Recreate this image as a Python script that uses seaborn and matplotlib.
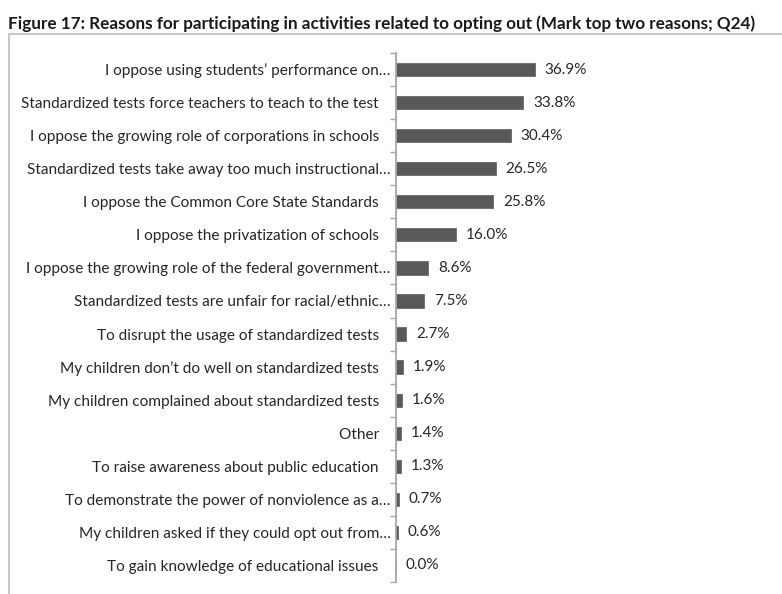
import matplotlib
matplotlib.use("Agg")
import matplotlib.pyplot as plt
import seaborn as sns
import pandas as pd
from matplotlib.patches import Rectangle
from matplotlib.ticker import FixedLocator

reasons = [
    "I oppose using students\u2019 performance on\u2026",
    "Standardized tests force teachers to teach to the test",
    "I oppose the growing role of corporations in schools",
    "Standardized tests take away too much instructional\u2026",
    "I oppose the Common Core State Standards",
    "I oppose the privatization of schools",
    "I oppose the growing role of the federal government\u2026",
    "Standardized tests are unfair for racial/ethnic\u2026",
    "To disrupt the usage of standardized tests",
    "My children don\u2019t do well on standardized tests",
    "My children complained about standardized tests",
    "Other",
    "To raise awareness about public education",
    "To demonstrate the power of nonviolence as a\u2026",
    "My children asked if they could opt out from\u2026",
    "To gain knowledge of educational issues",
]
percent = [36.9, 33.8, 30.4, 26.5, 25.8, 16.0, 8.6, 7.5, 2.7, 1.9, 1.6, 1.4, 1.3, 0.7, 0.6, 0.0]
title = "Figure 17: Reasons for participating in activities related to opting out (Mark top two reasons; Q24)"

df = pd.DataFrame({"reason": reasons, "pct": percent})

sns.set_style("white")
plt.rcParams["font.family"] = ["Lato", "DejaVu Sans"]

W, H = 782, 594
fig = plt.figure(figsize=(W / 100, H / 100), dpi=100)

# frame
fig.patches.append(Rectangle((9 / W, -0.1), 1.2, 1.1 - 34 / H, transform=fig.transFigure,
                             fill=False, edgecolor="#c8c8c8", linewidth=1.5))

fig.text(8 / W, 1 - 24 / H, title, fontsize=12.3, fontweight="bold", color="#1a1a1a",
         ha="left", va="center")

px_per_pct = 3.77
xmax = 40
ax_left = 396 / W
ax_w = xmax * px_per_pct / W
ax_top = 53
ax_bot = 582
ax = fig.add_axes([ax_left, 1 - ax_bot / H, ax_w, (ax_bot - ax_top) / H])

sns.barplot(data=df, x="pct", y="reason", color="#595959", width=0.4, ax=ax,
            saturation=1, edgecolor="#6a6a6a", linewidth=0.6)

ax.set_xlim(0, xmax)
ax.set_ylim(len(reasons) - 0.5, -0.5)
for i, v in enumerate(percent):
    ax.annotate(f"{v:.1f}%", xy=(v, i), xytext=(7, 0), textcoords="offset points",
                ha="left", va="center", fontsize=11, color="#262626", annotation_clip=False)

# labels that are not truncated sit a little further from the axis, as in the original
ax.set_yticks(range(len(reasons)))
ax.set_yticklabels([r if r.endswith("\u2026") else r + "   " for r in reasons])

for s in ["top", "right", "bottom"]:
    ax.spines[s].set_visible(False)
ax.spines["left"].set_color("#a6a6a6")
ax.spines["left"].set_linewidth(1.3)
ax.set_xticks([])
ax.set_xlabel("")
ax.set_ylabel("")
ax.tick_params(axis="y", which="major", length=0, pad=4, labelsize=11.1, labelcolor="#262626")
ax.yaxis.set_minor_locator(FixedLocator([i - 0.5 for i in range(len(reasons) + 1)]))
ax.tick_params(axis="y", which="minor", length=4, width=1.0, color="#a6a6a6", left=True)

fig.savefig("out.png", dpi=100)
